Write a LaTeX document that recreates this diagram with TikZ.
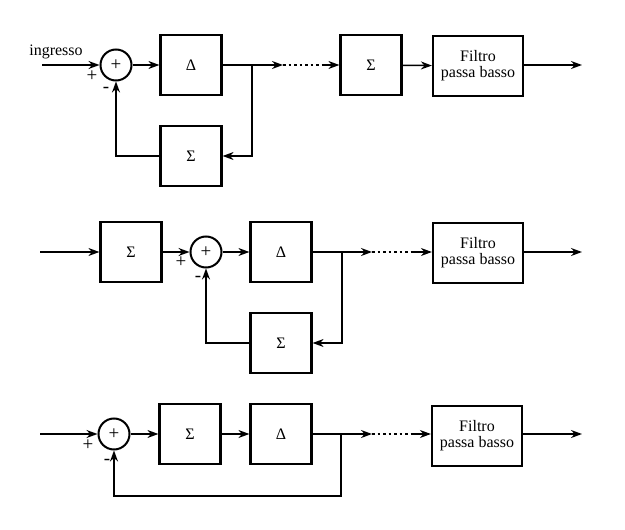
\documentclass[tikz,border=0pt]{standalone}
\usepackage{fontspec}
\setmainfont{Liberation Serif}
\usetikzlibrary{arrows.meta}

\begin{document}
\begin{tikzpicture}[x=1pt, y=-1pt,
	>={Stealth[length=11pt, width=8pt]},
	line width=1.5pt,
	font=\fontsize{16}{16}\selectfont,
	blk/.style={draw, line width=2.2pt, minimum width=61pt, minimum height=60pt, inner sep=0pt},
	flt/.style={blk, minimum width=90pt, align=center},
	summ/.style={draw, circle, line width=2pt, minimum size=31pt, inner sep=0pt, font=\fontsize{19}{19}\selectfont},
	sgn/.style={font=\fontsize{19}{19}\selectfont},
	dots/.style={dash pattern=on 2.5pt off 3pt}]

\useasboundingbox (0,0) rectangle (625,530);

% first chain
\coordinate (in1) at (42,65);
\node [anchor=base] (ingr) at (56,55) {ingresso};
\node [summ] (s1) at (116,65) {+};
\node [blk] (d1) at (191,65) {Δ};
\node [blk] (f1) at (191,156) {Σ};
\coordinate (b1) at (252,65);
\coordinate (p1) at (283,65);
\coordinate (q1) at (322,65);
\node [blk] (g1) at (371,65) {Σ};
\node [flt] (lp1) at (478,66) {Filtro\\passa basso};
\coordinate (out1) at (582,65);

\draw [->] (in1) -- (s1);
\draw [->] (s1) -- (d1);
\draw (d1) -- (b1);
\draw [->] (b1) -- (p1);
\draw [dots] (p1) -- (q1);
\draw [->] (q1) -- (g1);
\draw [->] (g1) -- (lp1);
\draw [->] (lp1.east |- out1) -- (out1);
\draw [->] (b1) |- (f1);
\draw [->] (f1) -| (s1);
\node [sgn] (pl1) at (92,76) {+};
\node [sgn] (mi1) at (106,90) {-};

% second chain
\coordinate (in2) at (40,252);
\node [blk] (g2) at (131,252) {Σ};
\node [summ] (s2) at (206,252) {+};
\node [blk] (d2) at (281,252) {Δ};
\node [blk] (f2) at (281,343) {Σ};
\coordinate (b2) at (342,252);
\coordinate (p2) at (372,252);
\coordinate (q2) at (412,252);
\node [flt] (lp2) at (478,253) {Filtro\\passa basso};
\coordinate (out2) at (582,252);

\draw [->] (in2) -- (g2);
\draw [->] (g2) -- (s2);
\draw [->] (s2) -- (d2);
\draw (d2) -- (b2);
\draw [->] (b2) -- (p2);
\draw [dots] (p2) -- (q2);
\draw [->] (q2) -- (lp2.west |- q2);
\draw [->] (lp2.east |- out2) -- (out2);
\draw [->] (b2) |- (f2);
\draw [->] (f2) -| (s2);
\node [sgn] (pl2) at (181,262) {+};
\node [sgn] (mi2) at (198,279) {-};

% third chain
\coordinate (in3) at (40,434);
\node [summ] (s3) at (114,434) {+};
\node [blk] (g3) at (190,434) {Σ};
\node [blk] (d3) at (281,434) {Δ};
\coordinate (b3) at (341,434);
\coordinate (p3) at (372,434);
\coordinate (q3) at (412,434);
\node [flt] (lp3) at (477,436) {Filtro\\passa basso};
\coordinate (out3) at (582,434);
\coordinate (c3) at (341,496);

\draw [->] (in3) -- (s3);
\draw [->] (s3) -- (g3);
\draw [->] (g3) -- (d3);
\draw (d3) -- (b3);
\draw [->] (b3) -- (p3);
\draw [dots] (p3) -- (q3);
\draw [->] (q3) -- (lp3.west |- q3);
\draw [->] (lp3.east |- out3) -- (out3);
\draw [->] (b3) -- (c3) -| (s3);
\node [sgn] (pl3) at (88,445) {+};
\node [sgn] (mi3) at (107,462) {-};

\end{tikzpicture}
\end{document}
